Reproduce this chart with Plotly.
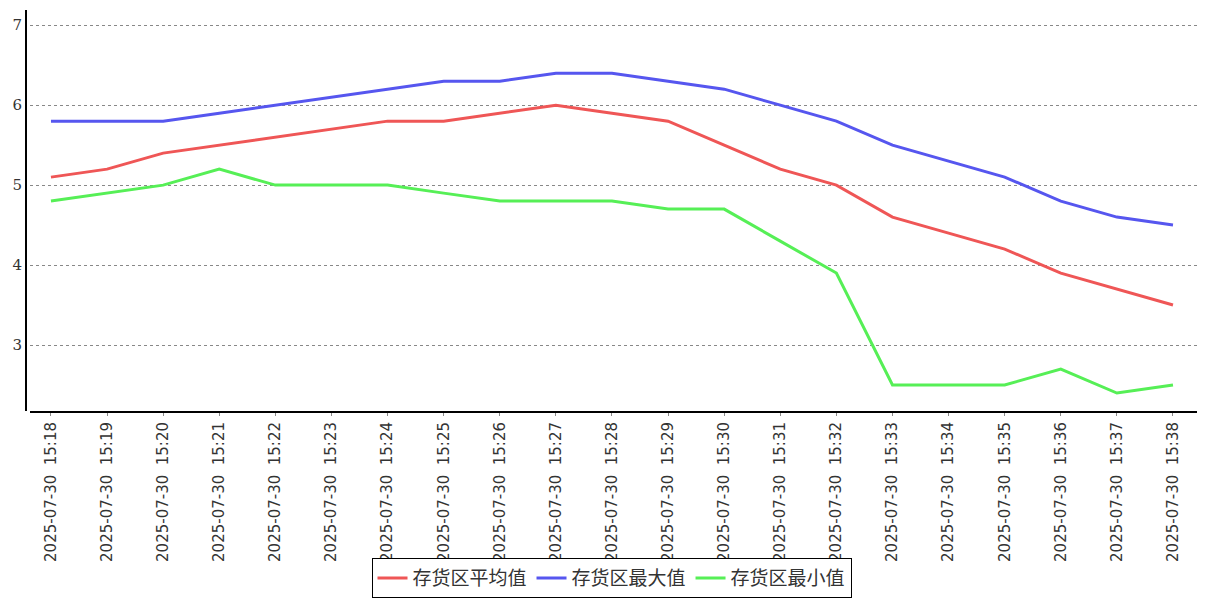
import plotly.graph_objects as go

times = ["15:18","15:19","15:20","15:21","15:22","15:23","15:24","15:25","15:26","15:27",
         "15:28","15:29","15:30","15:31","15:32","15:33","15:34","15:35","15:36","15:37","15:38"]
categories = ["2025-07-30\u00a0\u00a0" + t for t in times]

avg_vals = [5.1, 5.2, 5.4, 5.5, 5.6, 5.7, 5.8, 5.8, 5.9, 6.0, 5.9, 5.8, 5.5, 5.2, 5.0, 4.6, 4.4, 4.2, 3.9, 3.7, 3.5]
max_vals = [5.8, 5.8, 5.8, 5.9, 6.0, 6.1, 6.2, 6.3, 6.3, 6.4, 6.4, 6.3, 6.2, 6.0, 5.8, 5.5, 5.3, 5.1, 4.8, 4.6, 4.5]
min_vals = [4.8, 4.9, 5.0, 5.2, 5.0, 5.0, 5.0, 4.9, 4.8, 4.8, 4.8, 4.7, 4.7, 4.3, 3.9, 2.5, 2.5, 2.5, 2.7, 2.4, 2.5]

series_names = ["存货区平均值", "存货区最大值", "存货区最小值"]
colors = ["#EF5656", "#5656EF", "#56EF56"]

fig = go.Figure()
for name, vals, c in zip(series_names, [avg_vals, max_vals, min_vals], colors):
    fig.add_trace(go.Scatter(x=categories, y=vals, mode="lines", name=name,
                             line=dict(color=c, width=3)))

fig.update_layout(
    width=1207, height=600,
    paper_bgcolor="white", plot_bgcolor="white",
    margin=dict(l=26, r=10, t=10, b=189, autoexpand=False),
    font=dict(family="DejaVu Sans, sans-serif", color="#333"),
    showlegend=True,
    legend=dict(orientation="h", x=0.5, xanchor="center", y=0.003, yanchor="bottom",
                yref="container",
                bordercolor="black", borderwidth=1, bgcolor="white",
                font=dict(family="Noto Sans CJK SC", size=19, color="#333"),
                itemwidth=30, tracegroupgap=0),
    xaxis=dict(type="category", range=[-0.374, 20.428], domain=[0.0034, 1],
               tickangle=-90, tickfont=dict(size=15, family="DejaVu Sans, sans-serif"),
               showline=True, linecolor="black", linewidth=2,
               ticks="outside", ticklen=3, tickcolor="#888",
               showgrid=False, zeroline=False, automargin=False),
    yaxis=dict(range=[2.175, 7.19], anchor="free", position=0,
               tickvals=[3, 4, 5, 6, 7],
               tickfont=dict(size=15, family="DejaVu Serif, serif"),
               showline=True, linecolor="black", linewidth=2,
               showgrid=True, gridcolor="#888", griddash="dot", gridwidth=1,
               zeroline=False, ticks="", automargin=False),
)

fig.write_html("out.html", config={"displayModeBar": False},
               post_script="document.body.style.margin='0';document.body.style.overflow='hidden';")
